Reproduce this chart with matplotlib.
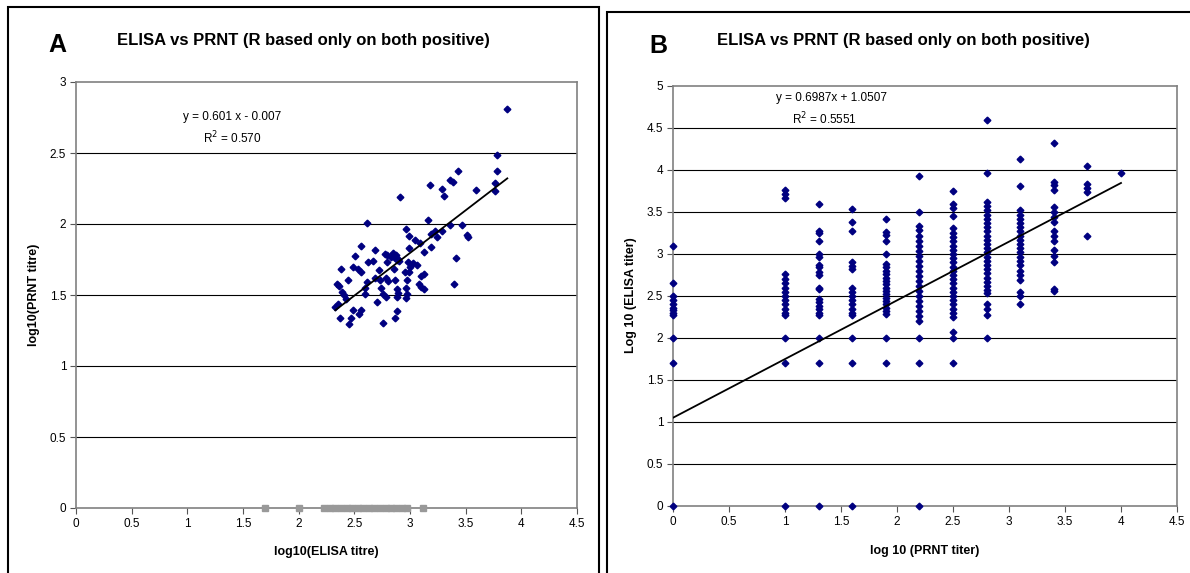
import numpy as np
import matplotlib.pyplot as plt
from matplotlib.patches import Rectangle

plt.rcParams['font.family'] = ['Liberation Sans', 'DejaVu Sans']

W, H = 1190, 573

# --- panel A: ELISA (x) vs PRNT (y), both positive ---
a_elisa = [3.874, 3.785, 3.785, 3.767, 3.767, 3.431, 3.36, 3.389, 3.287, 3.302,
           3.593, 3.183, 2.91, 2.617, 3.165, 2.967, 3.359, 3.467, 3.509, 3.518,
           3.29, 3.225, 3.186, 3.243, 2.988, 3.042, 3.09, 3.186, 2.988, 3.129,
           3.41, 2.56, 2.686, 2.506, 2.773, 2.797, 2.851, 2.874, 2.895, 2.88,
           2.985, 3.03, 3.06, 2.665, 2.62, 2.79, 2.485, 2.536, 2.557, 2.377,
           2.722, 2.859, 2.958, 2.988, 3.099, 3.126, 2.44, 2.614, 2.731, 2.784,
           2.805, 2.865, 2.97, 3.084, 3.102, 3.129, 3.395, 2.342, 2.36, 2.387,
           2.41, 2.422, 2.599, 2.74, 2.76, 2.781, 2.88, 2.895, 2.886, 2.964,
           2.97, 2.964, 2.701, 2.329, 2.353, 2.485, 2.56, 2.539, 2.374, 2.467,
           2.455, 2.88, 2.865, 2.755, 2.83, 2.86, 2.9, 2.69, 3.0, 2.6]
a_prnt = [2.812, 2.486, 2.371, 2.289, 2.232, 2.373, 2.31, 2.294, 2.246, 2.197,
          2.237, 2.272, 2.192, 2.007, 2.026, 1.967, 1.993, 1.995, 1.92, 1.911,
          1.953, 1.953, 1.93, 1.911, 1.913, 1.885, 1.868, 1.84, 1.829, 1.80,
          1.758, 1.847, 1.817, 1.775, 1.791, 1.779, 1.793, 1.782, 1.751, 1.746,
          1.732, 1.728, 1.714, 1.739, 1.732, 1.735, 1.70, 1.686, 1.66, 1.686,
          1.674, 1.683, 1.66, 1.66, 1.634, 1.646, 1.603, 1.592, 1.606, 1.622,
          1.599, 1.606, 1.603, 1.577, 1.559, 1.545, 1.58, 1.577, 1.563, 1.519,
          1.50, 1.474, 1.505, 1.551, 1.505, 1.484, 1.54, 1.516, 1.488, 1.547,
          1.505, 1.477, 1.453, 1.418, 1.437, 1.394, 1.394, 1.366, 1.34, 1.34,
          1.298, 1.385, 1.34, 1.30, 1.77, 1.765, 1.74, 1.62, 1.70, 1.55]
# ELISA values of PRNT-negative samples (plotted at 0)
a_negative = [1.70, 2.00, 2.23, 2.28, 2.33, 2.38, 2.43, 2.48, 2.53, 2.58, 2.63,
              2.68, 2.73, 2.78, 2.83, 2.87, 2.93, 2.97, 3.12]
a_slope, a_icpt, a_r2 = 0.601, -0.007, 0.570

# --- panel B: PRNT (x) vs ELISA (y) ---
prnt_levels = [0.0, 1.0, 1.3, 1.6, 1.9, 2.2, 2.5, 2.8, 3.1, 3.4, 3.7, 4.0]
col_00 = [3.1, 2.65, 2.5, 2.45, 2.4, 2.36, 2.33, 2.3, 2.27, 2.0, 1.7, 0]
col_10 = [3.76, 3.71, 3.67, 2.76, 2.7, 2.65, 2.6, 2.55, 2.5, 2.45, 2.4, 2.35,
          2.3, 2.27, 2.0, 1.7, 0]
col_13 = [3.59, 3.27, 3.25, 3.16, 3.0, 2.97, 2.87, 2.84, 2.78, 2.75, 2.6, 2.58,
          2.47, 2.43, 2.38, 2.34, 2.3, 2.27, 2.0, 1.7, 0]
col_16 = [3.54, 3.38, 3.27, 2.9, 2.86, 2.82, 2.6, 2.55, 2.5, 2.45, 2.4, 2.35,
          2.3, 2.27, 2.0, 1.7, 0]
col_19 = [3.42, 3.26, 3.23, 3.16, 3.0, 2.88, 2.84, 2.8, 2.76, 2.72, 2.68, 2.64,
          2.6, 2.56, 2.52, 2.48, 2.44, 2.4, 2.36, 2.32, 2.28, 2.0, 1.7]
col_22 = [3.93, 3.5, 3.33, 3.28, 3.22, 3.16, 3.1, 3.04, 2.98, 2.92, 2.86, 2.8,
          2.74, 2.68, 2.62, 2.56, 2.5, 2.44, 2.38, 2.32, 2.26, 2.2, 2.0, 1.7, 0]
col_25 = [3.75, 3.6, 3.55, 3.45, 3.31, 3.25, 3.2, 3.15, 3.1, 3.05, 3.0, 2.95,
          2.9, 2.85, 2.8, 2.75, 2.7, 2.65, 2.6, 2.55, 2.5, 2.45, 2.4, 2.35, 2.3,
          2.25, 2.07, 2.0, 1.7]
col_28 = [4.59, 3.96, 3.62, 3.57, 3.52, 3.47, 3.42, 3.37, 3.32, 3.27, 3.22,
          3.17, 3.12, 3.07, 3.02, 2.97, 2.92, 2.87, 2.82, 2.77, 2.72, 2.67, 2.62,
          2.57, 2.53, 2.41, 2.35, 2.27, 2.0]
col_31 = [4.13, 3.81, 3.52, 3.47, 3.42, 3.37, 3.32, 3.27, 3.22, 3.17, 3.12,
          3.07, 3.02, 2.97, 2.92, 2.87, 2.8, 2.75, 2.69, 2.55, 2.5, 2.4]
col_34 = [4.32, 3.86, 3.82, 3.76, 3.56, 3.5, 3.44, 3.38, 3.27, 3.22, 3.15,
          3.05, 2.98, 2.91, 2.58, 2.56]
col_37 = [4.05, 3.83, 3.78, 3.74, 3.22]
col_40 = [3.96]
b_cols = [col_00, col_10, col_13, col_16, col_19, col_22, col_25, col_28,
          col_31, col_34, col_37, col_40]
b_slope, b_icpt, b_r2 = 0.6987, 1.0507, 0.5551

NAVY = '#000080'
GREY = '#808080'


def fx(px):
    return px / W


def fy(py):
    return 1 - py / H


def style_axes(ax, ymax):
    ax.set_xlim(0, 4.5)
    ax.set_ylim(0, ymax)
    ax.set_xticks(np.arange(0, 4.51, 0.5))
    ax.set_yticks(np.arange(0, ymax + 0.01, 0.5))
    ax.set_xticklabels([f'{v:g}' for v in np.arange(0, 4.51, 0.5)])
    ax.set_yticklabels([f'{v:g}' for v in np.arange(0, ymax + 0.01, 0.5)])
    for s in ax.spines.values():
        s.set_color(GREY)
        s.set_linewidth(1.2)
    ax.tick_params(direction='out', length=4, width=0.8, color='#555555',
                   labelsize=8.5, pad=3)
    for y in np.arange(0.5, ymax - 0.01, 0.5):
        ax.axhline(y, color='black', lw=0.8, zorder=1)


fig = plt.figure(figsize=(W / 100, H / 100), dpi=100)

# outer frames of the two panels (bottom / right run off the picture)
fig.add_artist(Rectangle((fx(8), fy(600)), fx(599 - 8), (600 - 7) / H,
                         transform=fig.transFigure, fill=False, lw=1.5,
                         ec='black', clip_on=False))
fig.add_artist(Rectangle((fx(607), fy(600)), fx(1250 - 607), (600 - 12) / H,
                         transform=fig.transFigure, fill=False, lw=1.5,
                         ec='black', clip_on=False))

# ---------- panel A ----------
axA = fig.add_axes([fx(76), fy(508), fx(577 - 76), (508 - 82) / H])
style_axes(axA, 3)
axA.plot(a_negative, np.zeros(len(a_negative)), ls='none', marker='s',
         ms=4, color='#999999', clip_on=False, zorder=3)
axA.plot(a_elisa, a_prnt, ls='none', marker='D', ms=3.4, color=NAVY, zorder=4)
xl = np.array([min(a_elisa), max(a_elisa)])
axA.plot(xl, a_slope * xl + a_icpt, color='black', lw=1.3, zorder=5)

fig.text(fx(57), fy(45), 'A', fontsize=18, fontweight='bold', ha='center', va='center')
fig.text(fx(303), fy(41), 'ELISA vs PRNT (R based only on both positive)',
         fontsize=12, fontweight='bold', ha='center', va='center')
fig.text(fx(232), fy(117), 'y = 0.601 x - 0.007', fontsize=8.5, ha='center', va='center')
fig.text(fx(232), fy(138), 'R$^2$ = 0.570', fontsize=8.5, ha='center', va='center')
fig.text(fx(326), fy(552), 'log10(ELISA titre)', fontsize=9, fontweight='bold',
         ha='center', va='center')
fig.text(fx(34), fy(295), 'log10(PRNT titre)', fontsize=9, fontweight='bold',
         ha='center', va='center', rotation=90)

# ---------- panel B ----------
axB = fig.add_axes([fx(673), fy(506), fx(1177 - 673), (506 - 86) / H])
style_axes(axB, 5)
for xv, col in zip(prnt_levels, b_cols):
    axB.plot(np.full(len(col), xv), col, ls='none', marker='D', ms=3.4,
             color=NAVY, clip_on=False, zorder=4)
xl = np.array([min(prnt_levels), max(prnt_levels)])
axB.plot(xl, b_slope * xl + b_icpt, color='black', lw=1.3, zorder=5)

fig.text(fx(658), fy(46), 'B', fontsize=18, fontweight='bold', ha='center', va='center')
fig.text(fx(903), fy(41), 'ELISA vs PRNT (R based only on both positive)',
         fontsize=12, fontweight='bold', ha='center', va='center')
fig.text(fx(831), fy(98), 'y = 0.6987x + 1.0507', fontsize=8.5, ha='center', va='center')
fig.text(fx(825), fy(119), 'R$^2$ = 0.5551', fontsize=8.5, ha='center', va='center')
fig.text(fx(925), fy(551), 'log 10 (PRNT titer)', fontsize=9, fontweight='bold',
         ha='center', va='center')
fig.text(fx(631), fy(295), 'Log 10 (ELISA titer)', fontsize=9, fontweight='bold',
         ha='center', va='center', rotation=90)

fig.savefig('out.png', dpi=100)
